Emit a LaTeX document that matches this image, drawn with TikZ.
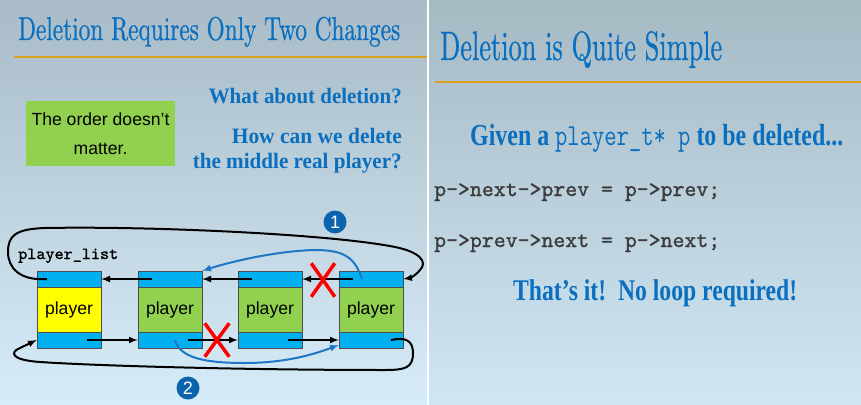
\documentclass[tikz,border=0pt]{standalone}
\usepackage{fontspec}
\usepackage{graphicx}
\usepackage{xcolor}
\usepackage{tikz}
\usetikzlibrary{arrows,shapes}

\newfontfamily\arialfont{Liberation Sans}
\newfontfamily\timesfont{Liberation Serif}
\newfontfamily\titlefont{lmroman10-regular.otf}[FakeBold=0.8]
\newfontfamily\codefont{lmmono10-regular.otf}[FakeBold=1.3]
\definecolor{slideblue}{HTML}{0A6FBE}
\definecolor{cellblue}{HTML}{00B0F0}
\definecolor{cellgreen}{HTML}{92D050}
\definecolor{cellyellow}{HTML}{FFFF00}
\definecolor{rulegold}{HTML}{D8A21C}
\definecolor{badgeblue}{HTML}{0D64AE}
\definecolor{codegray}{HTML}{3C3C3C}
\definecolor{linkblue}{HTML}{1D76C6}
\definecolor{skytop}{HTML}{A8BBC6}
\definecolor{skymid}{HTML}{BFD6E3}
\definecolor{skylow}{HTML}{D6ECF8}
\definecolor{skytopr}{HTML}{A6BAC4}
\definecolor{skymidr}{HTML}{BCD5E2}
\definecolor{skylowr}{HTML}{CFE6F3}
\newcommand{\squeeze}[2]{\resizebox{#1}{\height}{#2}}

\begin{document}
\begin{tikzpicture}[x=1pt,y=-1pt,
    link/.style={draw=black!70, fill=cellblue, minimum width=64pt, minimum height=16pt, inner sep=0pt},
    body/.style={draw=black!70, minimum width=64pt, minimum height=45pt, inner sep=0pt, font=\arialfont\fontsize{17.6}{20}\selectfont},
    note/.style={fill=cellgreen, minimum width=149pt, minimum height=65pt, align=center, inner sep=0pt, font=\arialfont\fontsize{17.6}{29}\selectfont},
    ptr/.style={-latex, line width=2pt},
    fix/.style={-latex, line width=2pt, draw=linkblue},
    cut/.style={cross out, draw=red, line width=3.5pt, inner sep=0pt},
    badge/.style={circle, fill=badgeblue, text=white, minimum size=23pt, inner sep=0pt, font=\arialfont\fontsize{18}{18}\selectfont},
    heading/.style={text=slideblue, inner sep=0pt},
    code/.style={text=codegray, inner sep=0pt, anchor=base west}]
    \useasboundingbox (0,0) rectangle (861,404);

    % two slides
    \shade[top color=skytop, middle color=skymid, bottom color=skylow] (0,0) rectangle (427,404);
    \shade[top color=skytopr, middle color=skymidr, bottom color=skylowr] (429,0) rectangle (861,404);
    \fill[white] (427,0) rectangle (429,404);
    \draw[rulegold, line width=1.5pt] (14,57) -- (427,57);
    \draw[rulegold, line width=2.5pt] (435,82) -- (861,82);

    % left slide
    \node[heading, anchor=base west] (title1) at (18,40) {\squeeze{382pt}{\titlefont\fontsize{33}{40}\selectfont Deletion Requires Only Two Changes}};
    \node[note] (hint) at (100.5,133.5) {The order doesn’t\\matter.};
    \node[heading, anchor=base east] (ask1) at (402,103) {\squeeze{193pt}{\timesfont\bfseries\fontsize{22}{26}\selectfont What about deletion?}};
    \node[heading, anchor=base east] (ask2) at (402,143) {\squeeze{170pt}{\timesfont\bfseries\fontsize{22}{26}\selectfont How can we delete}};
    \node[heading, anchor=base east] (ask3) at (402,168) {\squeeze{209pt}{\timesfont\bfseries\fontsize{22}{26}\selectfont the middle real player?}};

    \node[anchor=base west, inner sep=0pt] (head) at (18,259) {\squeeze{100pt}{\codefont\fontsize{17}{20}\selectfont player\_list}};

    \node[body, fill=cellyellow] (b1) at (69,309.5) {player};
    \node[body, fill=cellgreen] (b2) at (170,309.5) {player};
    \node[body, fill=cellgreen] (b3) at (270,309.5) {player};
    \node[body, fill=cellgreen] (b4) at (371,309.5) {player};
    \foreach \i/\x in {1/69, 2/170, 3/270, 4/371} {
        \node[link] (t\i) at (\x,279) {};
        \node[link] (n\i) at (\x,340) {};
    }

    \path[ptr]
        ([xshift=-18pt]t2.center) edge (t1.east)
        ([xshift=-18pt]t3.center) edge (t2.east)
        ([xshift=-18pt]t4.center) edge (t3.east)
        ([xshift=18pt]n1.center) edge (n2.west)
        ([xshift=18pt]n2.center) edge (n3.west)
        ([xshift=18pt]n3.center) edge (n4.west);

    % wrap-around pointers
    \draw[ptr] ([xshift=-22pt]t1.center) .. controls (20,281) and (8,268) .. (8,252)
        .. controls (8,236) and (15,229) .. (45,228)
        .. controls (150,226) and (330,234) .. (395,247)
        .. controls (420,252) and (428,262) .. (420,270)
        .. controls (415,276) and (410,278) .. (t4.east);
    \draw[ptr] ([xshift=20pt]n4.center) .. controls (405,337) and (413,340) .. (413,353)
        .. controls (413,368) and (405,370) .. (385,370)
        .. controls (250,370) and (100,366) .. (40,362)
        .. controls (10,360) and (10,352) .. (20,348) -- (n1.west);

    % the two changes
    \draw[fix] ([xshift=-9pt]t4.center) .. controls (355,258) and (345,250) .. (315,250)
        .. controls (275,251) and (230,262) .. (t2.north east);
    \draw[fix] ([xshift=5pt]n2.center) .. controls (180,358) and (205,363) .. (245,363)
        .. controls (290,363) and (320,352) .. ([yshift=-5pt]n4.west);
    \node[cut, minimum width=20pt, minimum height=30pt] (x1) at (323,280) {};
    \node[cut, minimum width=21pt, minimum height=30pt] (x2) at (217,340) {};
    \node[badge] (c1) at (335,222) {1};
    \node[badge] (c2) at (188,388) {2};

    % right slide
    \node[heading, anchor=base west] (title2) at (440,60) {\squeeze{282pt}{\titlefont\fontsize{41}{48}\selectfont Deletion is Quite Simple}};
    \node[heading, anchor=base west] (given) at (470,145) {\squeeze{373pt}{\timesfont\bfseries\fontsize{30.5}{36}\selectfont Given a {\mdseries\ttfamily player\_t* p} to be deleted...}};
    \node[code] (line1) at (434,196) {\squeeze{286pt}{\codefont\fontsize{22.6}{27}\selectfont p->next->prev = p->prev;}};
    \node[code] (line2) at (434,247) {\squeeze{286pt}{\codefont\fontsize{22.6}{27}\selectfont p->prev->next = p->next;}};
    \node[heading, anchor=base west] (done) at (513,300) {\squeeze{284pt}{\timesfont\bfseries\fontsize{30}{36}\selectfont That’s it!\ \ No loop required!}};
\end{tikzpicture}
\end{document}
